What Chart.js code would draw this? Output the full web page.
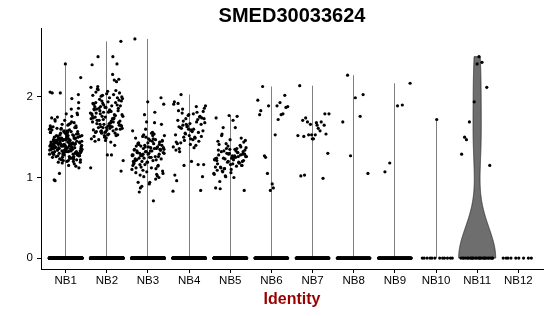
<!DOCTYPE html>
<html>
<head>
<meta charset="utf-8">
<script src="https://cdn.jsdelivr.net/npm/chart.js@4.4.1/dist/chart.umd.min.js"></script>
<style>
html, body { margin: 0; padding: 0; background: #fff; }
canvas { display: block; }
</style>
</head>
<body>
<canvas id="vlnPlot" width="550" height="316"></canvas>
<script>
const plotTitle = 'SMED30033624';
const categories = ['NB1', 'NB2', 'NB3', 'NB4', 'NB5', 'NB6', 'NB7', 'NB8', 'NB9', 'NB10', 'NB11', 'NB12'];

// non-zero expression values per cluster
const nb1 = [
  1.42, 1.61, 1.28, 1.47, 2.05, 1.35, 1.53, 1.19, 1.44, 1.70, 1.31, 1.39, 1.56, 1.24, 1.48, 1.86, 1.37, 1.29, 1.52, 1.41,
  1.33, 1.66, 1.45, 1.22, 1.58, 1.40, 1.98, 1.36, 1.27, 1.50, 1.43, 1.62, 1.18, 1.34, 1.46, 1.75, 1.30, 1.55, 1.38, 1.25,
  1.49, 2.24, 1.32, 1.43, 1.64, 1.21, 1.41, 1.57, 1.36, 1.12, 1.47, 1.29, 1.68, 1.39, 1.52, 1.26, 1.44, 1.80, 1.34, 1.59,
  1.42, 1.23, 1.51, 1.37, 1.72, 1.30, 1.46, 2.06, 1.40, 1.27, 1.54, 1.35, 1.63, 1.20, 1.48, 1.38, 1.15, 1.45, 1.32, 1.57,
  1.36, 1.69, 1.43, 1.28, 1.50, 0.97, 1.41, 1.33, 1.60, 1.24, 1.46, 1.78, 1.39, 1.31, 1.53, 1.44, 1.22, 1.65, 1.37, 1.49,
  1.30, 1.56, 1.42, 1.19, 1.93, 1.35, 1.47, 1.26, 1.61, 1.40, 1.33, 1.52, 1.45, 1.28, 1.74, 1.38, 1.05, 1.43, 1.58, 1.32,
  1.48, 1.25, 1.39, 1.67, 1.34, 1.50, 2.41, 1.41, 1.29, 1.55, 1.36, 1.21, 1.46, 1.62, 1.31, 1.44, 1.85, 1.37, 1.27, 1.53,
  1.40, 1.17, 1.49, 1.35, 1.59, 1.43, 1.30, 1.71, 1.38, 1.24, 1.47, 1.33, 1.56, 0.96, 1.42, 1.28, 1.64, 1.36, 1.51, 2.03,
  1.32, 1.45, 1.23, 1.60, 1.39, 1.48, 1.26, 1.54, 1.41, 1.35, 1.76, 1.30, 1.44, 1.20, 1.50, 1.37, 1.66, 1.29, 1.46, 1.34,
  1.57, 1.40, 1.25, 1.43, 2.05, 1.31, 1.52, 1.38, 1.14, 1.47, 1.62, 1.33, 1.41, 1.27, 1.79, 1.36, 1.49, 1.22, 1.45, 1.39
];
const nb2 = [
  1.75, 2.02, 1.58, 1.88, 2.69, 1.64, 1.93, 1.52, 1.81, 2.12, 1.70, 1.47, 1.96, 1.62, 1.85, 2.21, 1.55, 1.78, 1.99, 1.67,
  1.90, 1.50, 2.40, 1.73, 1.83, 1.60, 2.07, 1.45, 1.77, 1.92, 1.21, 1.68, 2.50, 1.86, 1.57, 1.74, 2.03, 1.63, 1.95, 1.54,
  1.80, 2.19, 1.66, 1.48, 1.89, 1.71, 2.05, 1.59, 1.84, 1.40, 1.76, 1.98, 1.61, 2.10, 1.53, 1.87, 1.69, 2.50, 1.79, 1.65,
  1.94, 1.56, 2.08, 1.72, 1.12, 1.82, 1.62, 2.22, 1.49, 1.91, 1.74, 1.58, 2.00, 1.67, 1.85, 2.41, 1.52, 1.79, 1.63, 1.97,
  1.70, 1.28, 1.88, 1.55, 2.02, 1.76, 1.64, 2.13, 1.83, 1.46, 1.92, 1.69, 1.57, 1.08, 1.81, 2.06, 1.60, 1.90, 1.73, 1.28,
  1.86, 1.65, 2.04, 1.51, 1.78, 1.95, 1.61, 1.84, 1.71, 1.99, 1.56, 1.77, 2.28, 1.66, 1.89, 1.53, 1.75, 1.93, 1.62, 1.80,
  1.44, 2.09, 1.68, 1.87, 1.59, 1.73, 2.01, 1.64, 1.82, 1.57
];
const nb3 = [
  1.32, 1.15, 1.48, 1.27, 1.99, 1.38, 1.06, 1.22, 1.53, 1.35, 1.12, 1.41, 1.29, 1.69, 1.18, 1.36, 0.89, 1.45, 1.25, 1.33,
  1.02, 1.40, 1.28, 1.56, 1.16, 1.34, 1.94, 1.23, 1.47, 1.09, 1.31, 1.37, 0.94, 1.26, 1.50, 1.20, 1.42, 1.13, 1.66, 1.30,
  1.39, 1.04, 1.24, 1.52, 1.33, 0.82, 1.44, 1.19, 1.35, 1.81, 1.27, 1.08, 1.46, 1.31, 1.14, 1.38, 1.58, 1.21, 0.87, 1.34,
  1.29, 1.49, 1.11, 1.36, 1.91, 1.25, 1.43, 1.00, 1.32, 1.17, 1.54, 1.28, 1.40, 0.92, 1.22, 1.37, 1.78, 1.10, 1.45, 1.30,
  1.35, 1.19, 2.72, 1.26, 1.51, 1.05, 1.33, 1.42, 1.15, 1.60, 1.28, 0.71, 1.39, 1.23, 1.48, 1.12, 1.36, 1.01, 1.30, 1.55,
  1.24, 1.41, 1.07, 1.34, 1.68, 1.20, 1.46, 0.94, 1.31, 1.38, 1.16, 1.27, 1.52, 1.03, 1.35, 1.43, 1.21, 0.98, 1.29, 1.37
];
const nb4 = [
  1.65, 1.82, 1.48, 1.92, 1.56, 1.73, 1.38, 1.60, 2.03, 1.51, 1.78, 1.44, 1.69, 1.15, 1.86, 1.58, 1.36, 1.75, 1.63, 1.94,
  1.50, 1.80, 1.01, 1.67, 1.42, 1.72, 1.55, 1.89, 1.47, 1.62, 0.84, 1.77, 1.53, 1.40, 1.70, 1.16, 1.59, 1.83, 1.45, 1.66,
  1.91, 1.37, 1.61, 1.74, 1.52, 0.96, 1.81, 1.46, 1.68, 1.57, 1.32, 1.76, 1.64, 1.03, 1.49, 1.85, 1.58, 1.41, 1.71, 1.16,
  1.54, 0.83, 1.79, 1.43, 1.66, 1.60, 1.34, 1.88, 1.50, 1.73, 1.20, 1.63
];
const nb5 = [
  1.22, 1.35, 1.08, 1.29, 1.47, 1.17, 1.31, 1.02, 1.26, 1.71, 1.13, 1.38, 1.20, 0.87, 1.33, 1.24, 1.44, 1.10, 1.28, 1.18,
  1.36, 1.05, 1.25, 1.52, 1.15, 1.30, 1.21, 1.76, 1.11, 1.34, 1.27, 0.95, 1.40, 1.19, 1.23, 1.62, 1.07, 1.32, 1.16, 1.45,
  1.26, 1.01, 1.37, 1.22, 1.12, 1.49, 1.29, 1.74, 1.14, 1.33, 0.84, 1.24, 1.41, 1.18, 1.30, 1.04, 1.27, 1.54, 1.20, 1.35,
  1.09, 1.31, 1.23, 1.46, 1.17, 0.86, 1.28, 1.39, 1.13, 1.25, 1.62, 1.21, 1.06, 1.34, 1.19, 1.42, 1.26, 1.00, 1.32, 1.15,
  1.77, 1.24, 1.36, 1.11, 1.29
];
const nb6 = [1.89, 1.27, 2.02, 0.92, 1.78, 1.93, 1.05, 1.88, 1.53, 2.13, 1.79, 0.84, 1.96, 1.72, 1.25, 1.87, 0.87, 1.83, 1.78, 1.89];
const nb7 = [1.65, 1.03, 1.79, 1.48, 2.14, 1.58, 1.69, 1.30, 1.53, 1.71, 0.99, 1.66, 1.52, 1.61, 1.74, 1.54, 1.48, 1.02, 1.69, 1.53, 1.79, 1.68, 1.51, 1.65, 1.53];
const nb8 = [1.76, 2.27, 1.05, 1.99, 1.69, 2.03, 1.27];
const nb9 = [1.90, 1.18, 2.17, 1.89, 1.07];
const nb10 = [1.72];
const nb11 = [2.50, 1.47, 2.12, 1.94, 1.29, 2.43, 1.69, 1.15, 2.41, 1.50];
const nb12 = [];

// cells with zero expression per cluster (estimated from the band at 0)
const zeroCounts = [900, 700, 650, 400, 450, 200, 200, 150, 150, 12, 25, 9];
const yTicks = [0, 1, 2];
const yRange = [-0.136, 2.856];

const exprByCluster = [nb1, nb2, nb3, nb4, nb5, nb6, nb7, nb8, nb9, nb10, nb11, nb12];
const cellsByCluster = exprByCluster.map((vals, i) => vals.concat(new Array(zeroCounts[i]).fill(0)));

function frac(v) {
  return v - Math.floor(v);
}

// jitter (width 0.4 like geom_jitter), deterministic
const points = [];
let k = 0;
cellsByCluster.forEach((vals, i) => {
  vals.forEach(v => {
    k++;
    points.push({x: i + 1 + (frac(k * 0.6180339887) - 0.5) * 0.8, y: v});
  });
});

function quantile(sorted, p) {
  const h = (sorted.length - 1) * p;
  const lo = Math.floor(h);
  const hi = Math.min(lo + 1, sorted.length - 1);
  return sorted[lo] + (h - lo) * (sorted[hi] - sorted[lo]);
}

// gaussian kde with bw.nrd0, trimmed, scaled to width
function violinShape(vals) {
  const s = vals.slice().sort((a, b) => a - b);
  const n = s.length;
  if (!n) return null;
  const min = s[0], max = s[n - 1];
  const iqr = quantile(s, 0.75) - quantile(s, 0.25);
  if (iqr === 0) return {line: true, min, max};
  const mean = s.reduce((a, b) => a + b, 0) / n;
  const sd = Math.sqrt(s.reduce((a, b) => a + (b - mean) * (b - mean), 0) / (n - 1));
  const bw = 0.9 * Math.min(sd, iqr / 1.34) * Math.pow(n, -0.2);
  const ys = [], dens = [];
  for (let j = 0; j < 512; j++) {
    const yy = min + (max - min) * j / 511;
    let d = 0;
    s.forEach(v => {
      const z = (yy - v) / bw;
      d += Math.exp(-0.5 * z * z);
    });
    ys.push(yy);
    dens.push(d);
  }
  const top = Math.max(...dens);
  return {line: false, ys, half: dens.map(d => 0.45 * d / top)};
}

const violinPlugin = {
  id: 'violins',
  beforeDatasetsDraw(chart) {
    const {ctx, scales: {x, y}} = chart;
    ctx.save();
    cellsByCluster.forEach((vals, i) => {
      const v = violinShape(vals);
      if (!v) return;
      if (v.line) {
        if (v.max <= v.min) return;
        const px = Math.floor(x.getPixelForValue(i + 1)) + 0.5;
        ctx.beginPath();
        ctx.moveTo(px, y.getPixelForValue(v.min));
        ctx.lineTo(px, y.getPixelForValue(v.max));
        ctx.strokeStyle = '#7f7f7f';
        ctx.lineWidth = 1;
        ctx.stroke();
        return;
      }
      ctx.beginPath();
      v.ys.forEach((yy, j) => {
        const px = x.getPixelForValue(i + 1 + v.half[j]);
        const py = y.getPixelForValue(yy);
        if (j) ctx.lineTo(px, py); else ctx.moveTo(px, py);
      });
      for (let j = v.ys.length - 1; j >= 0; j--) {
        ctx.lineTo(x.getPixelForValue(i + 1 - v.half[j]), y.getPixelForValue(v.ys[j]));
      }
      ctx.closePath();
      ctx.fillStyle = '#6e6e6e';
      ctx.fill();
      ctx.strokeStyle = '#2b2b2b';
      ctx.lineWidth = 0.8;
      ctx.stroke();
    });
    ctx.restore();
  }
};

const titlePlugin = {
  id: 'plotTitle',
  afterDraw(chart) {
    const {ctx, chartArea} = chart;
    ctx.save();
    ctx.font = 'bold 20px "Liberation Sans", Arial, sans-serif';
    ctx.fillStyle = '#000';
    ctx.textAlign = 'center';
    ctx.textBaseline = 'alphabetic';
    ctx.fillText(plotTitle, (chartArea.left + chartArea.right) / 2, 22);
    ctx.restore();
  }
};

const tickFont = {family: '"Liberation Sans", Arial, sans-serif', size: 11.5};

new Chart(document.getElementById('vlnPlot'), {
  type: 'scatter',
  data: {
    datasets: [{
      data: points,
      pointRadius: 1.6,
      pointHoverRadius: 1.6,
      backgroundColor: '#000',
      borderWidth: 0
    }]
  },
  options: {
    responsive: false,
    animation: false,
    devicePixelRatio: 1,
    layout: {padding: {top: 28, right: 7, left: 0, bottom: 0}},
    plugins: {
      legend: {display: false},
      tooltip: {enabled: false}
    },
    scales: {
      x: {
        type: 'linear',
        min: 0.4,
        max: 12.6,
        afterBuildTicks: s => { s.ticks = categories.map((c, i) => ({value: i + 1})); },
        afterFit: s => { s.height = 47; },
        ticks: {
          callback: v => categories[v - 1],
          font: tickFont,
          color: '#000',
          padding: 1,
          autoSkip: false,
          maxRotation: 0
        },
        grid: {drawOnChartArea: false, tickLength: 4, color: '#000'},
        border: {color: '#000', width: 1},
        title: {
          display: true,
          text: 'Identity',
          color: '#990000',
          font: {family: '"Liberation Sans", Arial, sans-serif', size: 16, weight: 'bold'},
          padding: {top: 0, bottom: 7}
        }
      },
      y: {
        min: yRange[0],
        max: yRange[1],
        afterBuildTicks: s => { s.ticks = yTicks.map(v => ({value: v})); },
        afterFit: s => { s.width = 41; },
        ticks: {font: tickFont, color: '#000', padding: 4},
        grid: {drawOnChartArea: false, tickLength: 4, color: '#000'},
        border: {color: '#000', width: 1}
      }
    }
  },
  plugins: [violinPlugin, titlePlugin]
});
</script>
</body>
</html>
